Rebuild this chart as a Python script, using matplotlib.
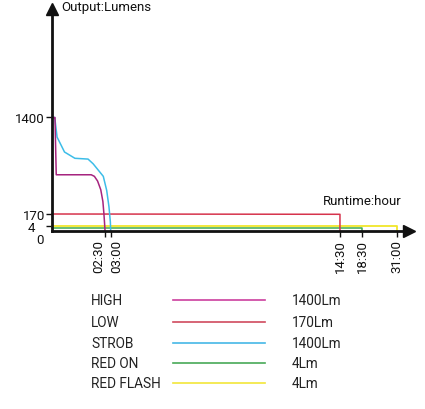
import numpy as np
import matplotlib
matplotlib.use('Agg')
import matplotlib.pyplot as plt
from matplotlib.lines import Line2D
import matplotlib.transforms as mtransforms

plt.rcParams['font.family'] = ['Roboto', 'DejaVu Sans']

# runtime curves (hours, lumens)
high_t = [0, 0.09, 0.14, 0.20, 1.85, 2.00, 2.15, 2.30, 2.40, 2.45, 2.48, 2.50]
high_lm = [1400, 1400, 1400, 670, 670, 650, 590, 480, 330, 170, 40, 0]

strob_t = [0, 0.13, 0.24, 0.59, 1.08, 1.70, 1.94, 2.42, 2.65, 2.85, 2.97, 3.0]
strob_lm = [1400, 1400, 1150, 960, 880, 870, 810, 650, 470, 260, 60, 0]

low_t = [0, 14.4, 14.5, 14.5]
low_lm = [170, 166, 166, 0]

redon_t = [0, 18.5, 18.5]
redon_lm = [4, 4, 0]

redflash_t = [0, 31, 31]
redflash_lm = [4, 4, 0]

names = ['HIGH', 'LOW', 'STROB', 'RED ON', 'RED FLASH']
outputs = ['1400Lm', '170Lm', '1400Lm', '4Lm', '4Lm']
colors = ['#a6247f', '#d6334c', '#3dbde8', '#3fa94f', '#f1e62a']
legend_colors = ['#cc3f9e', '#d04a5e', '#45b8e6', '#48a957', '#f2e63a']

xticks = [2.5, 3, 14.5, 18.5, 31]
xticklabels = ['02:30', '03:00', '14:30', '18:30', '31:00']
yticks = [1400, 170, 4]

# schematic (non linear) axes as drawn on the package
hour_knots = [0, 2.5, 3, 14.5, 18.5, 31, 40]
hour_pos = [0, 53, 58.7, 288, 310, 345, 370.2]
lm_knots = [0, 4, 170, 1400, 3000]
lm_pos = [0, 4.5, 16.5, 113, 238.6]


def xf(v):
    return np.interp(v, hour_knots, hour_pos)


def xi(v):
    return np.interp(v, hour_pos, hour_knots)


def yf(v):
    return np.interp(v, lm_knots, lm_pos)


def yi(v):
    return np.interp(v, lm_pos, lm_knots)


fig = plt.figure(figsize=(4.25, 4.10), dpi=100)
ax = fig.add_axes([52/425., (410-231.5)/410., (409-52)/425., (231.5-10)/410.])
ax.set_xscale('function', functions=(xf, xi))
ax.set_yscale('function', functions=(yf, yi))
ax.set_xlim(0, 35.3)
ax.set_ylim(0, 2782)

for s in ['top', 'right']:
    ax.spines[s].set_visible(False)
for s in ['left', 'bottom']:
    ax.spines[s].set_linewidth(2.0)
    ax.spines[s].set_color('#111111')

ax.plot(0, 1, '^', color='#111111', ms=9, transform=ax.transAxes, clip_on=False)
ax.plot(1, 0, '>', color='#111111', ms=9, transform=ax.transAxes, clip_on=False)

green_shift = mtransforms.offset_copy(ax.transData, fig=fig, x=0, y=-1.2, units='points')
ax.plot(redon_t, redon_lm, color=colors[3], lw=1.1, transform=green_shift, clip_on=False)
ax.plot(redflash_t, redflash_lm, color=colors[4], lw=1.3, clip_on=False)
ax.plot(low_t, low_lm, color=colors[1], lw=1.1, clip_on=False)
ax.plot(strob_t, strob_lm, color=colors[2], lw=1.1, clip_on=False)
ax.plot(high_t, high_lm, color=colors[0], lw=1.1, clip_on=False)

fs = 9.5
ax.set_yticks(yticks)
ax.set_yticklabels([str(v) for v in yticks])
ax.yaxis.set_minor_locator(matplotlib.ticker.NullLocator())
ax.xaxis.set_minor_locator(matplotlib.ticker.NullLocator())
ax.tick_params(axis='y', length=4, width=1, pad=1, labelsize=fs, colors='#111111')
ax.set_xticks(xticks)
ax.set_xticklabels(xticklabels, rotation=90, va='top')
ax.tick_params(axis='x', length=4, width=1, pad=2, labelsize=fs, colors='#111111')
tl = ax.get_xticklabels()
tl[0].set_ha('right')
tl[1].set_ha('left')
# the "4" label sits further left on the original
yl = ax.get_yticklabels()
yl[2].set_transform(yl[2].get_transform() +
                    mtransforms.ScaledTranslation(-10/100., 0, fig.dpi_scale_trans))

ax.text(-0.022, -0.04, '0', transform=ax.transAxes, ha='right', va='center',
        fontsize=fs, color='#111111')
ax.text(61/425., 1-7.5/410., 'Output:Lumens', transform=fig.transFigure,
        ha='left', va='center', fontsize=fs, color='#111111')
ax.text(402/425., 1-202/410., 'Runtime:hour', transform=fig.transFigure,
        ha='right', va='center', fontsize=fs, color='#111111')

# legend table
rows_y = [301, 323, 344, 364, 384]
for n, o, c, y in zip(names, outputs, legend_colors, rows_y):
    fy = 1 - y/410.
    fig.text(91/425., fy, n, ha='left', va='center', fontsize=9.8, color='#222222')
    fig.add_artist(Line2D([173/425., 265/425.], [fy, fy], color=c, lw=1.2,
                          transform=fig.transFigure))
    fig.text(292/425., fy, o, ha='left', va='center', fontsize=9.8, color='#222222')

fig.savefig('out.png', dpi=100)
